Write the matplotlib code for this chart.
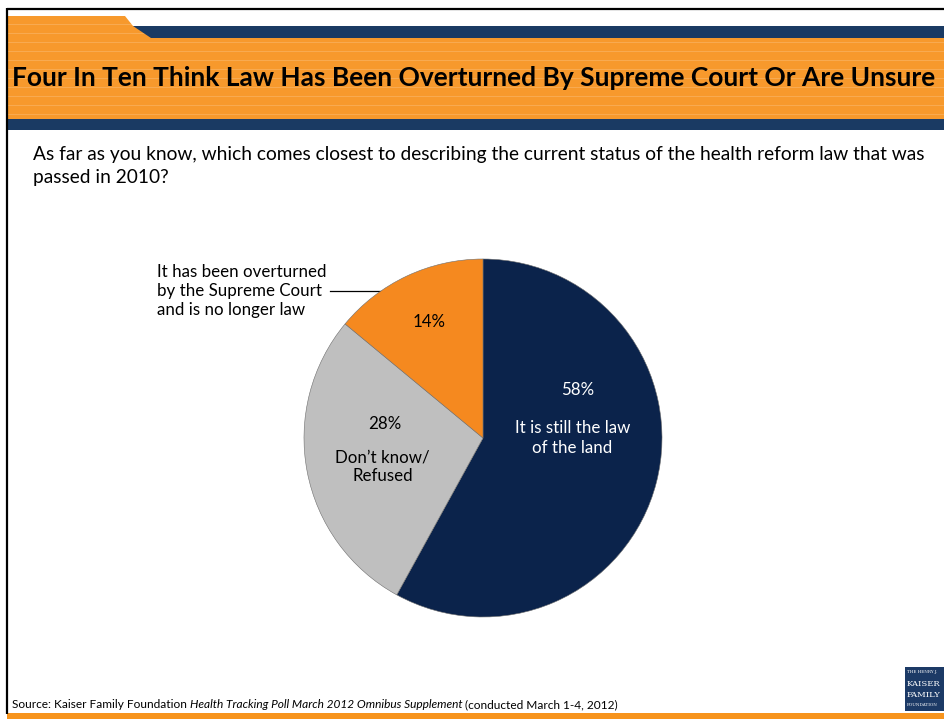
import matplotlib
matplotlib.use("Agg")
import matplotlib.pyplot as plt
from matplotlib.patches import Rectangle, Polygon

plt.rcParams['font.family'] = ['Lato', 'DejaVu Sans']

# Survey results
categories = ["It is still the law\nof the land", "Don\u2019t know/\nRefused",
              "It has been overturned\nby the Supreme Court\nand is no longer law"]
values = [58, 28, 14]
colors = ["#0B234B", "#BFBFBF", "#F5891F"]

title = "Four In Ten Think Law Has Been Overturned By Supreme Court Or Are Unsure"
question = ("As far as you know, which comes closest to describing the current status of the health reform law that was\n"
            "passed in 2010?")
source_parts = [("Source: Kaiser Family Foundation ", "normal"),
                ("Health Tracking Poll March 2012 Omnibus Supplement", "italic"),
                (" (conducted March 1-4, 2012)", "normal")]

W, H = 945, 719
fig = plt.figure(figsize=(W / 100, H / 100), dpi=100)
fig.patch.set_facecolor("white")

# Overlay axes in pixel coordinates (origin top-left)
bg = fig.add_axes([0, 0, 1, 1])
bg.set_xlim(0, W)
bg.set_ylim(H, 0)
bg.axis("off")

ORANGE = "#F7992C"
STRIPE = "#F8AA50"
NAVY = "#1A3A63"

# Header band
bg.add_patch(Rectangle((7, 16), W - 7, 103, facecolor=ORANGE, edgecolor="none", zorder=1))
for y in range(24, 119, 9):
    bg.add_patch(Rectangle((7, y), W - 7, 1.3, facecolor=STRIPE, edgecolor="none", zorder=2))
# white notch above the navy strip
bg.add_patch(Polygon([(125, 15.5), (W, 15.5), (W, 26), (133, 26)], closed=True,
                     facecolor="white", edgecolor="none", zorder=3))
bg.add_patch(Polygon([(133, 26), (W, 26), (W, 37.5), (151, 37.5)], closed=True,
                     facecolor=NAVY, edgecolor="none", zorder=3))
bg.add_patch(Rectangle((7, 119), W - 7, 11, facecolor=NAVY, edgecolor="none", zorder=3))

# Frame lines
bg.plot([7, W], [8.5, 8.5], color="black", lw=1.6, zorder=5, solid_capstyle="butt")
bg.plot([7, 7], [8, 714], color="black", lw=1.6, zorder=5, solid_capstyle="butt")
# Bottom orange rule
bg.add_patch(Rectangle((7, 713), W - 7, 6, facecolor="#F7941D", edgecolor="none", zorder=4))

bg.text(12, 78, title, fontsize=19, fontweight="bold", color="black",
        va="center", ha="left", zorder=6)
bg.text(33, 146, question, fontsize=13.8, color="black", va="top", ha="left",
        linespacing=1.42, zorder=6)

# Pie
cx, cy, r = 483, 438, 179
pax = fig.add_axes([(cx - r) / W, (H - cy - r) / H, 2 * r / W, 2 * r / H])
wedges, _ = pax.pie(values, colors=colors, startangle=90, counterclock=False,
                    radius=1, wedgeprops=dict(edgecolor="#6E6E6E", linewidth=0.4))
pax.set_xlim(-1, 1)
pax.set_ylim(-1, 1)
pax.set_aspect("equal")
pax.axis("off")

lab_fs = 12.2
# in-slice labels (data coords of the pie axes)
pax.text(0.53, 0.27, f"{values[0]}%", color="white", fontsize=lab_fs, ha="center", va="center")
pax.text(0.50, 0.0, categories[0], color="white", fontsize=lab_fs, ha="center", va="center",
         linespacing=1.25)
pax.text(-0.55, 0.08, f"{values[1]}%", color="black", fontsize=lab_fs, ha="center", va="center")
pax.text(-0.56, -0.16, categories[1], color="black", fontsize=lab_fs, ha="center", va="center",
         linespacing=1.25)
pax.text(-0.30, 0.65, f"{values[2]}%", color="black", fontsize=lab_fs, ha="center", va="center")

# Outside label with leader line
bg.text(157, 291, categories[2], fontsize=lab_fs, color="black", ha="left", va="center",
        linespacing=1.25, zorder=6)
bg.plot([330, 382], [291, 291], color="black", lw=0.9, zorder=6)

# Footer source line with mixed styles
prev = bg.text(12, 708, source_parts[0][0], fontsize=8.55, style=source_parts[0][1],
               ha="left", va="baseline", zorder=6)
for txt, st in source_parts[1:]:
    prev = bg.annotate(txt, xy=(1, 0), xycoords=prev, fontsize=8.55, style=st,
                       ha="left", va="bottom", zorder=6)

# Foundation logo block
bg.add_patch(Rectangle((905, 667), 40, 44, facecolor="#1C3A66", edgecolor="none", zorder=6))
bg.text(907, 672, "THE HENRY J.", fontsize=3.0, color="white", family="DejaVu Serif",
        va="center", ha="left", zorder=7)
bg.text(907, 684, "KAISER", fontsize=6.0, color="white", family="DejaVu Serif",
        va="center", ha="left", zorder=7)
bg.text(907, 695, "FAMILY", fontsize=6.0, color="white", family="DejaVu Serif",
        va="center", ha="left", zorder=7)
bg.text(907, 705, "FOUNDATION", fontsize=3.0, color="white", family="DejaVu Serif",
        va="center", ha="left", zorder=7)

fig.savefig("out.png", dpi=100, facecolor="white")
